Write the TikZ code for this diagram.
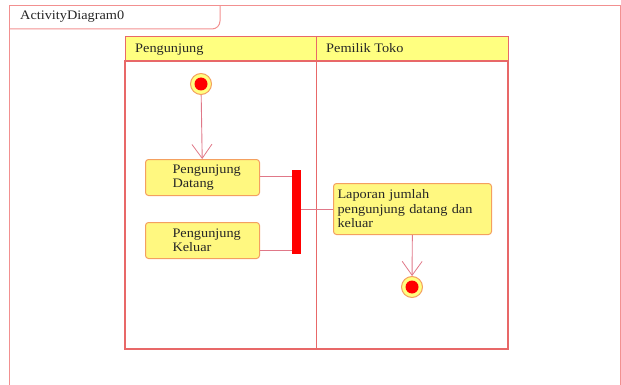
\documentclass[tikz,border=0pt]{standalone}
\usepackage{fontspec}
\setmainfont{Liberation Serif}[FakeStretch=1.1]
\usetikzlibrary{arrows.meta}
\definecolor{frameln}{HTML}{F29090}
\definecolor{laneln}{HTML}{E86868}
\definecolor{hdrfill}{HTML}{FFFF80}
\definecolor{boxfill}{HTML}{FFF880}
\definecolor{boxln}{HTML}{F4A060}
\definecolor{flowln}{HTML}{E07888}
\definecolor{dotred}{HTML}{FF0000}
\tikzset{
  every node/.style={font=\fontsize{13}{14.5}\selectfont, text=black!85},
  actbox/.style={draw=boxln, line width=1pt, fill=boxfill, rounded corners=3pt, inner sep=0pt, align=left},
  lanehdr/.style={draw=laneln, line width=1pt, fill=hdrfill},
  flow/.style={draw=flowln, line width=0.9pt},
  flowarr/.style={flow, -{Straight Barb[length=14pt,width=20pt,line width=0.8pt]}},
  startouter/.style={circle, draw=boxln, line width=1pt, fill=hdrfill, minimum size=21pt, inner sep=0pt},
  dot/.style={circle, fill=dotred, minimum size=13pt, inner sep=0pt},
}
\begin{document}
\begin{tikzpicture}[x=1pt,y=-1pt]
\useasboundingbox (0,0) rectangle (621,385);
% outer frame
\draw[frameln, line width=1pt] (9,385) -- (9,6) -- (620,6) -- (620,385);
\draw[frameln, line width=1pt] (9,29) -- (212,29) to[out=0,in=-90] (220,21) -- (220,6);
\node[anchor=base west, inner sep=0pt] (title) at (20,20) {ActivityDiagram0};
% pool
\draw[lanehdr] (125,37) rectangle (316,61);
\draw[lanehdr] (316,37) rectangle (508,61);
\draw[laneln, line width=1.2pt] (125,61) rectangle (508,349);
\draw[laneln, line width=1pt] (316,61) -- (316,349);
\node[anchor=base west, inner sep=0pt] (lane1) at (135,53) {Pengunjung};
\node[anchor=base west, inner sep=0pt] (lane2) at (326,53) {Pemilik Toko};
% start
\node[startouter] (start) at (201,84) {};
\node[dot] at (start) {};
% activities
\node[actbox, minimum width=114pt, minimum height=36pt, text width=96pt, anchor=north west] (datang) at (145,159) {\hspace*{18pt}Pengunjung\\\hspace*{18pt}Datang};
\node[actbox, minimum width=114pt, minimum height=36pt, text width=96pt, anchor=north west] (keluar) at (145,222) {\hspace*{18pt}Pengunjung\\\hspace*{18pt}Keluar};
\node[draw=none, fill=dotred, minimum width=9pt, minimum height=84pt, inner sep=0pt, anchor=north west] (fork) at (292,170) {};
\node[actbox, minimum width=158pt, minimum height=51pt, text width=150pt, anchor=north west, inner xsep=4pt] (lap) at (333,183) {Laporan jumlah\\pengunjung datang dan\\keluar};
% final
\node[startouter] (final) at (412,287) {};
\node[dot] at (final) {};
% flows
\draw[flowarr] (start) -- (datang);
\draw[flow] ([yshift=1pt]datang.east) -- ([yshift=1pt]datang.east -| fork.west);
\draw[flow] ([yshift=-10pt]keluar.east) -- ([yshift=-10pt]keluar.east -| fork.west);
\draw[flow] (fork.east |- lap.west) -- (lap.west);
\draw[flowarr] (lap) -- (final);
\end{tikzpicture}
\end{document}
